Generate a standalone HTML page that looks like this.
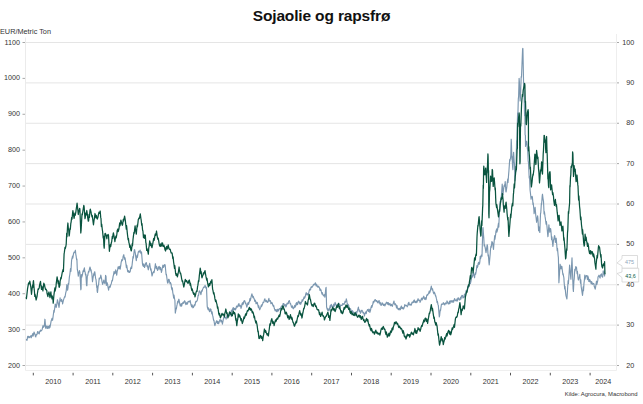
<!DOCTYPE html>
<html><head><meta charset="utf-8"><title>Sojaolie og rapsfrø</title>
<style>
html,body{margin:0;padding:0;background:#fff;}
body{width:643px;height:404px;position:relative;overflow:hidden;font-family:"Liberation Sans",sans-serif;color:#333;}
.title{position:absolute;left:0;width:643px;top:6px;line-height:20px;text-align:center;font-weight:bold;font-size:15.5px;color:#111;letter-spacing:-0.15px;}
.unit{position:absolute;left:0px;top:26.5px;font-size:7.3px;color:#333;}
.yl{position:absolute;left:0;width:20px;text-align:right;font-size:7.2px;line-height:10px;color:#333;}
.yr{position:absolute;left:614px;width:20.3px;text-align:right;font-size:7.2px;line-height:10px;color:#333;}
.xl{position:absolute;top:377px;width:40px;text-align:center;font-size:7.2px;line-height:10px;color:#333;}
.src{position:absolute;right:5.5px;top:390px;font-size:5.9px;color:#333;line-height:8px;}
</style></head><body>
<svg width="643" height="404" viewBox="0 0 643 404" style="position:absolute;left:0;top:0">
<line x1="25.5" y1="365.5" x2="616.5" y2="365.5" stroke="#e5e5e5" stroke-width="1"/>
<line x1="616.5" y1="365.5" x2="619.0" y2="365.5" stroke="#a8a8a8" stroke-width="1"/>
<line x1="25.5" y1="325.12" x2="616.5" y2="325.12" stroke="#e5e5e5" stroke-width="1"/>
<line x1="616.5" y1="325.12" x2="619.0" y2="325.12" stroke="#a8a8a8" stroke-width="1"/>
<line x1="25.5" y1="284.75" x2="616.5" y2="284.75" stroke="#e5e5e5" stroke-width="1"/>
<line x1="616.5" y1="284.75" x2="619.0" y2="284.75" stroke="#a8a8a8" stroke-width="1"/>
<line x1="25.5" y1="244.38" x2="616.5" y2="244.38" stroke="#e5e5e5" stroke-width="1"/>
<line x1="616.5" y1="244.38" x2="619.0" y2="244.38" stroke="#a8a8a8" stroke-width="1"/>
<line x1="25.5" y1="204.0" x2="616.5" y2="204.0" stroke="#e5e5e5" stroke-width="1"/>
<line x1="616.5" y1="204.0" x2="619.0" y2="204.0" stroke="#a8a8a8" stroke-width="1"/>
<line x1="25.5" y1="163.62" x2="616.5" y2="163.62" stroke="#e5e5e5" stroke-width="1"/>
<line x1="616.5" y1="163.62" x2="619.0" y2="163.62" stroke="#a8a8a8" stroke-width="1"/>
<line x1="25.5" y1="123.25" x2="616.5" y2="123.25" stroke="#e5e5e5" stroke-width="1"/>
<line x1="616.5" y1="123.25" x2="619.0" y2="123.25" stroke="#a8a8a8" stroke-width="1"/>
<line x1="25.5" y1="82.88" x2="616.5" y2="82.88" stroke="#e5e5e5" stroke-width="1"/>
<line x1="616.5" y1="82.88" x2="619.0" y2="82.88" stroke="#a8a8a8" stroke-width="1"/>
<line x1="25.5" y1="42.5" x2="616.5" y2="42.5" stroke="#e5e5e5" stroke-width="1"/>
<line x1="616.5" y1="42.5" x2="619.0" y2="42.5" stroke="#a8a8a8" stroke-width="1"/>
<line x1="22.5" y1="365.5" x2="25.5" y2="365.5" stroke="#a8a8a8" stroke-width="1"/>
<line x1="22.5" y1="329.61" x2="25.5" y2="329.61" stroke="#a8a8a8" stroke-width="1"/>
<line x1="22.5" y1="293.72" x2="25.5" y2="293.72" stroke="#a8a8a8" stroke-width="1"/>
<line x1="22.5" y1="257.83" x2="25.5" y2="257.83" stroke="#a8a8a8" stroke-width="1"/>
<line x1="22.5" y1="221.94" x2="25.5" y2="221.94" stroke="#a8a8a8" stroke-width="1"/>
<line x1="22.5" y1="186.06" x2="25.5" y2="186.06" stroke="#a8a8a8" stroke-width="1"/>
<line x1="22.5" y1="150.17" x2="25.5" y2="150.17" stroke="#a8a8a8" stroke-width="1"/>
<line x1="22.5" y1="114.28" x2="25.5" y2="114.28" stroke="#a8a8a8" stroke-width="1"/>
<line x1="22.5" y1="78.39" x2="25.5" y2="78.39" stroke="#a8a8a8" stroke-width="1"/>
<line x1="22.5" y1="42.5" x2="25.5" y2="42.5" stroke="#a8a8a8" stroke-width="1"/>
<line x1="25.5" y1="37.5" x2="25.5" y2="370.5" stroke="#ebebeb" stroke-width="1"/>
<line x1="25.5" y1="370.5" x2="616.5" y2="370.5" stroke="#efefef" stroke-width="1"/>
<line x1="616.5" y1="34" x2="616.5" y2="370.5" stroke="#eeeeee" stroke-width="1"/>
<line x1="33.3" y1="372.8" x2="33.3" y2="375.4" stroke="#555" stroke-width="1"/>
<line x1="73.1" y1="372.8" x2="73.1" y2="375.4" stroke="#555" stroke-width="1"/>
<line x1="112.8" y1="372.8" x2="112.8" y2="375.4" stroke="#555" stroke-width="1"/>
<line x1="152.6" y1="372.8" x2="152.6" y2="375.4" stroke="#555" stroke-width="1"/>
<line x1="192.4" y1="372.8" x2="192.4" y2="375.4" stroke="#555" stroke-width="1"/>
<line x1="232.2" y1="372.8" x2="232.2" y2="375.4" stroke="#555" stroke-width="1"/>
<line x1="271.9" y1="372.8" x2="271.9" y2="375.4" stroke="#555" stroke-width="1"/>
<line x1="311.7" y1="372.8" x2="311.7" y2="375.4" stroke="#555" stroke-width="1"/>
<line x1="351.5" y1="372.8" x2="351.5" y2="375.4" stroke="#555" stroke-width="1"/>
<line x1="391.2" y1="372.8" x2="391.2" y2="375.4" stroke="#555" stroke-width="1"/>
<line x1="431.0" y1="372.8" x2="431.0" y2="375.4" stroke="#555" stroke-width="1"/>
<line x1="470.8" y1="372.8" x2="470.8" y2="375.4" stroke="#555" stroke-width="1"/>
<line x1="510.5" y1="372.8" x2="510.5" y2="375.4" stroke="#555" stroke-width="1"/>
<line x1="550.3" y1="372.8" x2="550.3" y2="375.4" stroke="#555" stroke-width="1"/>
<line x1="590.1" y1="372.8" x2="590.1" y2="375.4" stroke="#555" stroke-width="1"/>
<path d="M26.4,338.9 L26.6,339.8 L27.0,340.3 L27.2,339.1 L27.7,336.4 L27.9,337.9 L28.4,337.2 L28.7,336.3 L29.2,336.9 L29.4,337.7 L30.1,336.8 L30.4,336.5 L31.0,335.7 L31.2,337.8 L31.9,335.7 L32.2,335.1 L32.9,333.5 L33.1,336.2 L33.8,333.7 L34.0,332.0 L35.1,334.7 L35.4,336.5 L35.8,337.0 L36.1,335.0 L36.5,334.4 L36.8,334.8 L37.2,333.7 L37.5,331.8 L38.0,331.5 L38.2,332.8 L39.2,333.8 L39.5,332.1 L40.6,330.1 L40.9,331.1 L41.9,330.1 L42.1,329.6 L43.0,325.5 L43.2,327.4 L44.1,326.5 L44.4,325.0 L44.9,319.2 L45.1,320.5 L45.6,328.1 L45.9,325.5 L46.8,327.1 L47.0,328.5 L47.5,328.4 L47.8,326.0 L48.2,326.3 L48.5,328.0 L49.0,328.4 L49.3,326.5 L49.8,325.3 L50.0,327.3 L50.9,322.3 L51.1,321.2 L52.0,318.4 L52.2,319.6 L52.6,320.3 L52.9,318.0 L53.9,310.3 L54.1,312.3 L55.0,306.2 L55.2,304.0 L56.0,305.6 L56.2,307.4 L57.1,302.7 L57.4,299.7 L58.2,302.8 L58.5,304.7 L59.0,307.4 L59.2,306.1 L60.1,297.9 L60.4,300.7 L61.4,301.3 L61.6,299.4 L62.4,302.1 L62.6,303.9 L63.5,299.9 L63.8,299.1 L64.6,296.6 L65.0,297.1 L65.8,292.5 L66.2,291.1 L66.8,284.7 L67.2,285.3 L67.6,290.1 L68.0,287.9 L68.3,283.3 L68.7,284.2 L69.4,276.9 L69.8,274.5 L70.5,268.6 L70.9,271.5 L71.6,260.2 L71.9,259.0 L72.5,256.0 L72.8,258.1 L73.3,255.1 L73.6,253.2 L74.2,251.9 L74.5,252.6 L75.1,251.4 L75.4,250.2 L75.8,254.3 L76.1,255.8 L76.6,259.7 L76.9,259.0 L77.3,269.4 L77.7,271.0 L78.3,276.1 L78.7,273.3 L79.5,270.6 L79.9,272.5 L80.8,289.8 L81.1,288.6 L81.3,274.5 L81.7,277.3 L82.5,274.5 L82.9,271.6 L83.3,270.3 L83.6,271.7 L84.0,269.2 L84.4,267.9 L84.8,271.6 L85.1,271.9 L85.5,274.9 L85.9,274.2 L86.5,285.1 L86.9,285.8 L87.3,276.0 L87.7,275.7 L88.5,271.3 L88.9,272.1 L89.3,269.8 L89.6,268.3 L90.0,267.0 L90.4,268.3 L90.8,270.9 L91.1,269.9 L91.4,272.4 L91.8,273.2 L92.5,281.8 L92.9,278.7 L93.8,273.7 L94.1,275.3 L94.4,272.1 L94.8,271.8 L95.6,278.4 L96.0,279.5 L96.8,287.8 L97.1,286.1 L97.1,290.9 L97.5,292.5 L98.2,285.8 L98.6,284.7 L99.2,278.1 L99.6,279.0 L100.4,277.6 L100.8,275.0 L101.6,278.9 L102.0,281.6 L102.6,284.4 L103.0,283.4 L103.8,280.1 L104.1,281.7 L104.9,283.6 L105.2,281.4 L105.6,275.4 L106.0,276.4 L106.4,285.4 L106.8,282.3 L107.6,284.3 L108.0,287.1 L108.6,290.1 L109.0,287.4 L109.8,286.0 L110.1,287.3 L110.8,284.6 L111.2,284.0 L112.0,280.4 L112.4,280.9 L113.1,276.4 L113.5,274.8 L114.1,271.4 L114.5,273.8 L115.3,273.1 L115.7,269.8 L116.4,273.0 L116.7,275.2 L117.2,271.3 L117.5,270.5 L118.1,266.8 L118.4,267.5 L119.0,268.8 L119.3,266.3 L119.9,267.0 L120.2,269.2 L120.8,265.2 L121.1,262.7 L121.8,259.6 L122.1,260.8 L122.8,259.4 L123.1,256.5 L123.8,254.7 L124.1,256.8 L124.7,259.4 L125.0,257.7 L125.6,261.6 L125.9,263.6 L126.4,267.6 L126.7,265.2 L127.3,269.0 L127.6,271.3 L128.3,272.1 L128.6,270.6 L129.3,271.9 L129.6,272.4 L130.3,271.2 L130.6,268.3 L131.3,266.9 L131.6,268.6 L132.2,263.9 L132.5,261.1 L133.0,256.6 L133.3,258.1 L134.3,250.0 L134.6,249.7 L135.3,253.1 L135.6,255.8 L136.3,260.6 L136.6,258.1 L137.1,255.2 L137.4,257.5 L138.0,253.6 L138.3,251.9 L138.9,251.2 L139.2,252.1 L139.8,251.4 L140.1,250.0 L140.5,251.8 L140.8,253.0 L141.2,253.7 L141.5,251.9 L142.5,264.1 L142.8,265.5 L143.4,266.3 L143.7,263.8 L144.2,265.2 L144.5,267.5 L145.2,265.5 L145.5,263.8 L146.2,262.5 L146.5,263.5 L147.1,266.7 L147.4,265.6 L148.0,268.4 L148.3,269.8 L148.8,266.8 L149.1,265.7 L149.7,263.4 L150.0,265.6 L150.7,270.2 L151.0,268.8 L151.7,273.7 L152.0,276.0 L152.7,273.6 L153.0,272.4 L153.7,271.7 L154.0,272.6 L154.6,269.7 L154.9,267.5 L155.4,263.7 L155.7,266.0 L156.3,268.7 L156.6,266.4 L157.2,268.6 L157.5,270.5 L158.2,269.3 L158.5,267.2 L159.2,266.4 L159.5,268.1 L160.1,269.8 L160.4,267.4 L161.1,269.7 L161.4,272.4 L162.0,270.0 L162.3,268.0 L162.9,265.0 L163.2,267.5 L163.9,266.7 L164.2,265.1 L164.9,264.5 L165.2,265.4 L166.1,274.8 L166.4,274.2 L167.4,282.0 L167.7,283.2 L168.2,282.2 L168.5,279.3 L169.1,279.3 L169.4,280.8 L170.1,283.8 L170.4,282.5 L171.1,284.3 L171.4,287.5 L172.0,289.9 L172.3,287.9 L172.8,292.6 L173.1,294.1 L173.7,298.1 L174.0,295.0 L174.6,299.2 L174.9,300.2 L175.3,313.1 L175.6,311.6 L176.1,308.1 L176.4,309.0 L176.8,306.0 L177.1,304.7 L177.7,301.3 L178.0,303.0 L178.6,299.8 L178.9,299.2 L179.4,301.8 L179.7,303.7 L180.3,306.1 L180.6,304.6 L181.3,303.6 L181.6,306.1 L182.3,303.6 L182.6,303.1 L183.3,302.2 L183.6,303.3 L184.3,301.4 L184.6,300.8 L185.1,301.6 L185.4,303.5 L186.0,304.6 L186.3,303.1 L186.9,302.7 L187.2,304.1 L187.8,303.0 L188.1,301.3 L188.8,301.5 L189.1,301.7 L189.8,302.0 L190.1,300.4 L190.7,303.4 L191.0,304.8 L191.7,306.9 L192.0,304.8 L192.6,306.5 L192.9,307.8 L193.5,307.3 L193.8,306.0 L194.4,304.7 L194.7,305.8 L195.2,304.3 L195.5,302.2 L196.2,301.2 L196.5,301.8 L197.2,300.5 L197.5,299.4 L198.2,295.2 L198.5,295.6 L199.2,291.1 L199.5,290.8 L200.1,291.9 L200.4,292.7 L200.9,294.6 L201.2,293.1 L201.8,290.3 L202.1,291.3 L202.7,289.0 L203.0,288.5 L203.7,287.0 L204.0,287.3 L204.7,287.1 L205.0,285.3 L205.4,286.4 L205.7,287.4 L206.2,288.6 L206.5,287.2 L207.2,306.1 L207.5,307.8 L208.2,309.8 L208.5,307.9 L209.2,310.4 L209.5,311.7 L210.0,311.3 L210.3,308.9 L210.9,309.2 L211.2,310.9 L211.8,313.8 L212.1,311.9 L212.6,315.4 L212.9,316.4 L213.6,320.3 L213.9,320.1 L214.6,324.5 L214.9,325.7 L215.6,323.1 L215.9,322.5 L216.6,320.8 L216.9,322.1 L217.5,323.4 L217.8,321.2 L218.4,323.0 L218.7,323.7 L219.2,321.9 L219.5,320.9 L220.1,319.4 L220.4,320.3 L221.1,321.9 L221.4,320.2 L222.1,322.0 L222.4,324.1 L223.1,320.6 L223.4,318.9 L224.1,316.7 L224.4,317.7 L224.9,317.8 L225.2,317.3 L225.8,317.7 L226.1,319.1 L226.7,316.8 L227.0,315.8 L227.6,314.7 L227.9,315.0 L228.6,315.4 L228.9,314.7 L229.6,315.9 L229.9,316.0 L230.5,313.9 L230.8,313.1 L231.5,310.1 L231.8,311.7 L232.4,310.8 L232.7,308.8 L233.3,307.5 L233.6,309.7 L234.2,309.6 L234.5,308.6 L235.0,308.3 L235.3,309.9 L236.0,308.8 L236.3,306.9 L237.0,305.9 L237.3,307.1 L238.0,306.6 L238.3,304.5 L239.0,303.7 L239.3,305.9 L239.9,306.2 L240.2,305.2 L240.7,306.5 L241.0,308.4 L241.6,306.5 L241.9,304.2 L242.5,302.7 L242.8,304.7 L243.5,303.2 L243.8,301.3 L244.5,300.7 L244.8,301.0 L245.5,303.7 L245.8,303.0 L246.5,305.8 L246.8,307.1 L247.3,305.5 L247.6,303.8 L248.2,302.6 L248.5,304.4 L249.1,302.3 L249.4,301.6 L249.9,298.6 L250.2,300.8 L250.9,298.0 L251.2,296.5 L251.9,293.9 L252.2,294.9 L252.9,297.7 L253.2,296.3 L253.9,298.4 L254.2,298.9 L254.8,301.4 L255.1,300.1 L255.7,301.2 L256.0,303.6 L256.5,303.6 L256.8,302.3 L257.4,302.8 L257.7,304.4 L258.4,307.7 L258.7,305.7 L259.4,308.8 L259.7,309.8 L260.4,308.0 L260.7,307.5 L261.4,304.9 L261.7,306.4 L262.3,304.9 L262.6,304.1 L263.1,302.2 L263.4,302.6 L264.0,301.9 L264.3,300.0 L264.9,298.8 L265.2,300.2 L265.9,301.7 L266.2,300.3 L266.9,301.6 L267.2,302.4 L267.9,302.2 L268.2,300.7 L268.9,298.4 L269.2,301.1 L269.7,301.0 L270.0,300.4 L270.6,301.1 L270.9,303.6 L271.5,303.5 L271.8,302.5 L272.3,303.2 L272.6,304.8 L273.3,306.3 L273.6,305.2 L274.3,308.3 L274.6,309.2 L275.3,311.0 L275.6,309.5 L276.3,309.8 L276.6,311.7 L277.2,311.6 L277.5,309.3 L278.1,309.4 L278.4,311.0 L278.9,309.8 L279.2,309.0 L279.8,308.5 L280.1,309.1 L280.8,307.8 L281.1,306.8 L281.8,305.8 L282.1,306.5 L282.8,305.2 L283.1,303.6 L283.8,303.5 L284.1,304.5 L284.7,305.9 L285.0,304.6 L285.5,304.7 L285.8,307.0 L286.4,306.0 L286.7,304.3 L287.3,303.0 L287.6,304.0 L288.3,303.6 L288.6,301.4 L289.3,300.5 L289.6,301.6 L290.2,303.9 L290.5,303.4 L291.2,305.8 L291.5,307.1 L292.1,307.6 L292.4,305.9 L293.0,308.1 L293.3,308.8 L293.9,307.9 L294.2,306.9 L294.7,305.4 L295.0,307.3 L295.7,306.0 L296.0,303.6 L296.7,302.6 L297.0,304.8 L297.7,304.2 L298.0,302.1 L298.7,301.2 L299.0,302.3 L299.6,303.9 L299.9,302.2 L300.4,302.4 L300.7,304.4 L301.3,302.6 L301.6,302.2 L302.2,299.7 L302.5,301.2 L303.2,299.8 L303.5,298.6 L304.2,296.8 L304.5,298.3 L305.2,296.8 L305.5,295.0 L306.2,292.6 L306.5,294.0 L307.0,294.9 L307.3,293.6 L307.9,294.5 L308.2,295.0 L308.8,292.6 L309.1,291.0 L309.7,289.1 L310.0,290.1 L310.6,289.8 L310.9,287.2 L311.6,286.7 L311.9,287.5 L312.6,286.3 L312.9,285.9 L313.6,284.3 L313.9,285.0 L314.5,284.5 L314.8,283.8 L315.4,282.8 L315.7,284.8 L316.2,285.9 L316.5,284.2 L317.1,285.5 L317.4,286.8 L318.1,287.2 L318.4,286.2 L319.1,287.2 L319.4,287.7 L320.1,290.5 L320.4,289.0 L321.1,290.3 L321.4,291.9 L322.0,294.1 L322.3,292.6 L322.8,294.4 L323.1,295.1 L323.7,296.0 L324.0,294.8 L324.6,294.7 L324.9,297.2 L325.8,288.5 L326.1,287.3 L326.6,307.2 L326.9,308.2 L327.6,310.3 L327.9,308.4 L328.6,310.1 L328.9,310.9 L329.6,309.0 L329.9,307.2 L330.3,305.4 L330.6,307.8 L331.0,306.1 L331.3,304.4 L331.9,305.8 L332.2,306.2 L332.8,308.0 L333.1,306.3 L333.8,304.1 L334.1,306.4 L334.8,304.4 L335.1,302.4 L335.8,304.1 L336.1,305.5 L336.8,306.1 L337.1,304.9 L337.6,304.4 L337.9,306.0 L338.5,304.4 L338.8,303.1 L339.4,304.6 L339.7,305.1 L340.2,306.9 L340.5,305.0 L341.2,305.2 L341.5,305.5 L342.2,305.5 L342.5,303.9 L343.2,303.6 L343.5,304.4 L344.2,304.3 L344.5,303.5 L345.1,301.2 L345.4,302.3 L346.0,301.1 L346.3,298.9 L346.8,301.0 L347.1,302.9 L347.7,305.1 L348.0,304.4 L348.7,305.3 L349.0,307.6 L349.7,308.9 L350.0,308.5 L350.7,309.0 L351.0,310.7 L351.7,311.6 L352.0,310.6 L352.6,310.7 L352.9,312.9 L353.4,312.5 L353.7,312.2 L354.3,313.0 L354.6,314.0 L355.2,315.7 L355.5,314.4 L356.2,311.7 L356.5,313.9 L357.2,311.7 L357.5,310.7 L358.4,307.1 L358.7,308.9 L359.3,311.5 L359.6,310.0 L360.1,311.9 L360.4,313.3 L361.1,312.0 L361.4,310.3 L362.1,310.3 L362.4,311.2 L363.1,313.1 L363.4,312.3 L364.1,313.8 L364.4,316.0 L365.0,313.7 L365.3,312.9 L365.9,311.9 L366.2,313.6 L366.7,311.2 L367.0,310.9 L367.6,309.6 L367.9,310.3 L368.6,311.6 L368.9,309.1 L369.6,309.9 L369.9,312.4 L370.6,309.8 L370.9,308.0 L371.6,305.7 L371.9,307.3 L372.5,305.2 L372.8,304.1 L373.3,301.3 L373.6,302.8 L374.2,301.5 L374.5,300.6 L375.1,299.5 L375.4,299.8 L376.1,301.4 L376.4,300.5 L377.1,300.9 L377.4,302.4 L378.1,303.0 L378.4,301.4 L379.1,300.5 L379.4,302.2 L379.9,304.0 L380.2,302.3 L380.8,304.7 L381.1,305.4 L381.7,304.7 L382.0,302.8 L382.5,303.2 L382.8,304.0 L383.5,305.4 L383.8,304.1 L384.5,304.2 L384.8,305.9 L385.5,304.6 L385.8,303.5 L386.5,302.2 L386.8,302.4 L387.4,304.2 L387.7,302.5 L388.3,302.5 L388.6,304.8 L389.1,304.6 L389.4,303.7 L390.0,303.4 L390.3,305.6 L391.0,305.7 L391.3,304.4 L392.0,305.6 L392.3,306.4 L393.0,304.1 L393.3,303.1 L394.0,301.0 L394.3,303.2 L394.9,304.8 L395.1,303.5 L395.7,304.4 L396.0,305.4 L396.6,308.0 L396.9,305.3 L397.5,307.9 L397.8,308.8 L398.5,309.7 L398.8,308.4 L399.5,308.4 L399.8,310.0 L400.4,309.6 L400.7,307.4 L401.4,306.1 L401.7,308.3 L402.3,308.7 L402.6,307.4 L403.2,308.0 L403.5,309.0 L404.1,307.7 L404.4,306.5 L404.9,304.5 L405.2,305.8 L405.9,305.7 L406.2,305.3 L406.9,305.9 L407.2,306.8 L407.9,305.2 L408.2,303.4 L408.9,302.3 L409.2,304.9 L409.8,304.5 L410.1,304.0 L410.6,304.6 L410.9,305.4 L411.5,304.5 L411.8,302.9 L412.4,301.9 L412.7,302.8 L413.4,302.5 L413.7,300.7 L414.4,300.0 L414.7,302.2 L415.4,302.6 L415.7,301.5 L416.4,301.1 L416.7,302.7 L417.2,301.8 L417.5,300.5 L418.1,298.7 L418.4,300.1 L419.0,300.7 L419.3,300.1 L419.9,300.8 L420.1,302.3 L420.8,300.6 L421.1,299.3 L421.8,298.0 L422.1,299.9 L422.8,298.6 L423.1,297.6 L423.8,296.2 L424.1,298.2 L424.7,299.3 L425.0,297.8 L425.6,297.9 L425.9,299.7 L426.4,297.8 L426.7,295.4 L427.3,294.7 L427.6,295.2 L428.3,293.7 L428.6,293.3 L429.3,291.0 L429.6,293.1 L430.3,291.1 L430.6,289.3 L431.3,286.1 L431.6,288.0 L432.2,290.2 L432.5,288.7 L433.0,291.0 L433.3,292.5 L433.9,293.8 L434.2,292.1 L434.8,293.3 L435.1,294.1 L435.5,296.2 L435.8,295.8 L436.3,298.2 L436.6,299.4 L437.1,302.6 L437.4,301.4 L438.0,304.7 L438.3,305.2 L439.3,316.9 L439.6,315.7 L440.2,309.9 L440.5,310.6 L441.2,305.9 L441.5,304.0 L442.1,304.0 L442.4,304.3 L443.0,304.1 L443.3,302.7 L443.9,303.2 L444.2,304.3 L444.7,305.0 L445.0,303.8 L445.7,302.9 L446.0,303.9 L446.7,302.7 L447.0,300.9 L447.7,302.4 L448.0,303.7 L448.7,304.0 L449.0,302.9 L449.6,301.1 L449.9,303.7 L450.4,301.5 L450.7,300.7 L451.3,300.6 L451.6,301.9 L452.2,302.3 L452.5,301.0 L453.2,300.4 L453.5,302.2 L454.2,300.3 L454.5,298.5 L455.2,299.8 L455.5,300.6 L456.2,301.0 L456.5,300.2 L457.0,298.9 L457.3,301.0 L457.9,298.7 L458.2,297.7 L458.8,298.6 L459.1,299.9 L459.7,300.0 L460.0,299.4 L460.6,297.2 L460.9,299.2 L461.6,296.2 L461.9,295.4 L462.6,295.5 L462.9,298.0 L463.6,297.6 L463.9,297.1 L464.5,294.1 L464.8,296.8 L465.4,294.2 L465.7,293.5 L466.2,290.4 L466.5,292.2 L467.1,291.1 L467.4,289.0 L468.1,286.2 L468.4,287.6 L469.1,286.0 L469.4,284.5 L470.1,280.8 L470.4,283.7 L471.1,280.5 L471.4,278.2 L472.0,275.6 L472.3,277.1 L472.8,274.8 L473.1,272.8 L473.7,274.6 L474.0,275.5 L474.6,277.8 L474.9,274.1 L475.3,272.9 L475.6,274.3 L476.1,271.7 L476.4,269.8 L476.9,265.5 L477.2,267.7 L477.8,266.3 L478.1,263.7 L478.7,262.3 L479.0,264.4 L479.6,263.4 L479.9,261.1 L480.2,256.3 L480.5,258.8 L481.0,257.1 L481.3,255.0 L481.8,254.7 L482.0,256.2 L482.8,229.1 L483.0,227.5 L483.5,234.7 L483.8,238.2 L484.2,246.0 L484.5,244.5 L485.1,247.5 L485.4,248.8 L486.0,252.6 L486.2,251.3 L487.2,244.7 L487.5,245.9 L488.1,256.0 L488.4,254.8 L489.0,263.3 L489.2,265.0 L490.2,254.0 L490.4,250.5 L490.9,246.2 L491.2,247.5 L491.7,243.6 L491.9,241.5 L492.6,242.7 L492.9,245.2 L493.5,249.4 L493.8,245.1 L494.7,235.7 L494.9,239.3 L495.7,234.1 L495.9,231.4 L496.7,228.9 L496.9,232.2 L497.6,229.6 L497.9,227.1 L498.5,223.2 L498.8,227.1 L499.4,212.2 L499.6,211.2 L500.2,201.3 L500.5,203.4 L501.2,197.4 L501.5,194.7 L502.2,184.1 L502.4,186.3 L503.1,194.6 L503.3,191.3 L504.1,185.5 L504.3,186.6 L505.0,183.4 L505.2,181.5 L505.9,191.5 L506.1,192.0 L506.9,186.4 L507.1,183.8 L507.8,178.8 L508.0,182.5 L508.7,173.4 L508.9,171.2 L509.7,159.6 L509.9,161.1 L510.6,157.5 L510.8,155.2 L511.2,139.2 L511.4,142.5 L511.9,159.3 L512.1,156.0 L512.6,167.1 L512.9,169.6 L513.4,154.7 L513.6,152.4 L514.2,161.8 L514.5,164.2 L514.9,180.8 L515.1,177.2 L515.6,169.2 L515.9,171.8 L516.6,141.0 L516.9,139.6 L517.6,112.9 L517.9,114.7 L518.3,99.1 L518.6,96.6 L519.1,78.3 L519.4,82.1 L520.1,101.0 L520.4,98.2 L521.2,76.6 L521.5,77.3 L522.6,48.8 L522.9,48.4 L523.6,83.4 L523.9,85.8 L524.6,115.8 L524.9,112.5 L525.1,134.7 L525.4,135.5 L525.5,146.5 L525.8,144.9 L526.5,141.2 L526.8,142.0 L527.4,148.9 L527.6,147.9 L528.2,161.2 L528.5,163.0 L529.2,178.0 L529.5,176.1 L530.1,190.2 L530.4,192.7 L531.1,199.3 L531.4,196.8 L532.1,196.4 L532.4,197.3 L533.0,204.5 L533.2,202.8 L533.9,209.8 L534.1,213.6 L534.9,208.9 L535.1,207.4 L535.8,215.5 L536.0,217.0 L536.6,222.3 L536.9,220.2 L537.6,215.9 L537.9,218.4 L538.6,230.8 L538.9,226.9 L539.5,229.8 L539.8,232.5 L540.5,213.8 L540.8,212.5 L541.4,203.1 L541.6,204.5 L542.2,196.1 L542.5,194.2 L543.2,200.0 L543.5,201.3 L544.1,214.0 L544.4,211.5 L545.1,216.9 L545.4,218.8 L546.1,224.2 L546.4,221.5 L547.0,226.7 L547.2,229.0 L547.9,236.7 L548.1,235.3 L548.9,224.8 L549.1,226.9 L549.8,232.2 L550.0,228.8 L550.6,228.6 L550.9,230.5 L551.6,239.6 L551.9,236.8 L552.6,243.7 L552.9,246.4 L553.5,240.3 L553.8,239.6 L554.5,235.5 L554.8,236.1 L555.4,242.4 L555.6,239.9 L556.2,238.2 L556.5,241.7 L557.2,250.6 L557.5,248.4 L558.1,255.3 L558.4,257.6 L558.9,282.8 L559.1,279.8 L560.1,264.2 L560.4,266.3 L561.0,268.9 L561.2,266.2 L561.9,266.5 L562.1,268.5 L562.9,274.7 L563.1,273.6 L563.9,278.0 L564.1,281.9 L564.7,288.9 L565.0,286.4 L565.6,292.6 L565.9,295.4 L566.9,299.0 L567.1,296.3 L568.1,280.7 L568.4,283.8 L569.4,268.8 L569.6,265.0 L570.6,276.1 L570.9,279.1 L571.8,261.4 L572.0,257.8 L573.1,288.7 L573.4,291.4 L573.9,281.1 L574.2,279.0 L574.8,269.3 L575.0,271.2 L575.5,268.7 L575.8,266.5 L576.2,267.0 L576.5,267.4 L577.1,273.7 L577.4,271.4 L578.1,278.9 L578.4,280.0 L578.9,277.9 L579.2,277.8 L579.8,274.4 L580.0,277.5 L580.5,283.2 L580.8,279.9 L581.2,287.0 L581.5,288.6 L582.5,295.4 L582.8,292.7 L583.2,286.9 L583.5,290.8 L584.0,283.1 L584.3,280.9 L584.8,275.0 L585.0,279.3 L585.6,276.7 L585.9,276.0 L586.6,275.6 L586.9,276.0 L587.5,279.7 L587.8,275.9 L588.5,278.1 L588.8,281.5 L589.4,281.7 L589.6,279.5 L590.2,280.6 L590.5,281.0 L591.2,283.8 L591.5,281.6 L592.1,282.6 L592.4,284.3 L593.1,284.0 L593.4,283.4 L594.0,284.0 L594.2,286.2 L595.2,289.1 L595.5,287.6 L596.5,281.1 L596.8,284.5 L597.8,280.4 L598.0,277.0 L599.0,275.2 L599.2,276.2 L600.1,278.1 L600.4,275.3 L601.5,273.9 L601.8,276.3 L602.6,277.1 L602.9,275.4 L603.2,270.8 L603.5,273.0 L604.1,274.1 L604.4,271.8 L604.6,275.9 L604.9,276.4" fill="none" stroke="#7b97b0" stroke-width="1.15" stroke-linejoin="round"/>
<path d="M26.2,297.1 L26.4,298.6 L27.4,290.1 L27.6,288.3 L28.6,282.8 L28.8,284.1 L29.6,282.7 L29.8,281.1 L30.6,285.9 L30.8,286.8 L31.5,294.3 L31.8,291.5 L32.6,284.8 L32.9,287.3 L33.2,282.2 L33.5,280.7 L34.1,288.2 L34.4,291.0 L34.8,296.4 L35.0,294.0 L35.9,298.6 L36.1,300.0 L37.1,296.0 L37.4,293.5 L38.1,288.8 L38.4,289.5 L39.2,288.0 L39.5,285.5 L40.5,281.3 L40.8,284.4 L41.5,289.4 L41.8,286.2 L42.6,288.6 L42.9,290.9 L43.5,285.8 L43.8,283.2 L44.5,284.7 L44.8,286.6 L45.6,289.7 L45.9,289.0 L46.8,290.6 L47.0,293.2 L47.9,296.6 L48.1,294.8 L49.0,292.0 L49.2,293.7 L50.0,297.6 L50.2,295.8 L50.9,291.9 L51.1,294.7 L52.0,298.9 L52.2,295.8 L53.0,299.7 L53.2,303.2 L53.9,295.2 L54.1,293.6 L54.9,287.8 L55.1,291.2 L56.0,286.7 L56.2,283.9 L57.1,276.8 L57.4,278.6 L58.2,283.6 L58.5,280.9 L59.0,286.7 L59.2,287.3 L59.9,285.0 L60.1,281.5 L60.9,277.3 L61.1,279.0 L62.0,273.8 L62.2,272.7 L63.1,269.4 L63.4,271.5 L64.1,253.9 L64.4,252.2 L65.0,247.3 L65.3,248.6 L65.9,246.1 L66.2,244.1 L66.7,233.2 L67.0,236.7 L67.6,225.8 L67.9,223.0 L68.4,229.3 L68.7,230.0 L69.1,236.0 L69.4,234.8 L70.0,228.2 L70.3,229.4 L70.8,223.5 L71.1,222.1 L71.7,217.3 L72.0,219.1 L72.6,213.0 L72.9,210.6 L73.3,213.2 L73.6,215.6 L74.1,218.3 L74.4,216.4 L74.9,213.1 L75.2,215.4 L75.8,212.3 L76.1,210.0 L77.1,203.2 L77.4,205.9 L78.3,214.5 L78.6,212.3 L79.6,208.3 L79.9,209.3 L80.8,233.0 L81.1,230.1 L82.0,213.9 L82.3,214.9 L82.9,211.0 L83.2,209.1 L83.8,205.4 L84.1,206.6 L85.0,218.6 L85.3,217.3 L85.8,213.1 L86.1,215.2 L86.5,212.5 L86.8,210.5 L87.4,214.8 L87.7,217.6 L88.3,221.2 L88.6,221.0 L89.1,214.3 L89.4,217.4 L90.0,210.4 L90.3,209.1 L91.0,211.9 L91.3,213.7 L92.0,216.9 L92.3,215.6 L93.2,222.9 L93.5,224.8 L94.1,219.8 L94.4,218.6 L95.0,213.5 L95.3,215.0 L96.0,217.9 L96.3,215.4 L97.0,218.1 L97.3,219.1 L98.0,217.1 L98.3,215.1 L99.0,212.1 L99.3,213.3 L99.9,212.5 L100.2,211.0 L100.7,217.4 L101.0,218.7 L101.4,226.5 L101.7,224.0 L102.3,229.5 L102.6,231.4 L103.2,238.0 L103.5,236.1 L103.9,245.6 L104.2,248.1 L104.9,234.0 L105.2,233.4 L105.9,234.4 L106.2,235.8 L106.9,238.8 L107.2,235.7 L108.2,234.5 L108.5,235.4 L109.4,251.3 L109.7,248.5 L110.4,244.5 L110.7,246.7 L111.4,242.5 L111.7,241.7 L112.3,236.4 L112.6,238.5 L113.1,234.2 L113.4,232.8 L114.0,235.9 L114.3,237.5 L114.9,241.6 L115.2,239.5 L115.9,236.1 L116.2,237.9 L116.9,234.0 L117.2,230.5 L117.9,229.0 L118.2,231.7 L118.9,229.1 L119.2,226.9 L119.7,222.8 L120.0,225.8 L120.6,222.4 L120.9,220.2 L121.5,222.5 L121.8,223.7 L122.3,225.3 L122.6,224.7 L123.3,219.4 L123.6,221.1 L124.3,217.7 L124.6,216.1 L125.3,220.0 L125.6,223.1 L126.3,229.1 L126.6,225.7 L127.2,231.9 L127.5,234.7 L128.1,239.8 L128.4,238.4 L128.9,242.6 L129.2,243.5 L129.8,247.3 L130.1,245.0 L130.5,247.1 L130.8,249.7 L131.3,250.9 L131.6,249.1 L132.2,243.7 L132.5,245.8 L133.0,239.5 L133.3,237.1 L133.9,232.3 L134.2,233.3 L134.8,228.4 L135.1,225.8 L135.5,229.5 L135.8,231.4 L136.3,234.1 L136.6,230.8 L137.1,225.2 L137.4,226.8 L138.0,222.3 L138.3,219.5 L139.0,217.9 L139.3,218.6 L140.0,215.4 L140.3,213.9 L140.9,218.5 L141.2,220.2 L141.7,225.1 L142.0,223.6 L142.6,230.4 L142.9,230.7 L143.5,237.6 L143.8,237.2 L144.2,234.8 L144.5,238.3 L145.0,236.2 L145.3,235.1 L145.8,242.3 L146.1,243.5 L146.7,250.4 L147.0,248.5 L148.0,252.4 L148.3,254.2 L148.8,247.6 L149.1,246.6 L149.7,240.8 L150.0,242.1 L150.7,245.5 L151.0,243.4 L151.7,247.1 L152.0,247.6 L152.7,244.2 L153.0,242.4 L153.7,238.3 L154.0,240.5 L154.5,238.8 L154.8,236.1 L155.3,234.0 L155.6,235.5 L156.2,233.3 L156.5,231.0 L157.0,234.6 L157.3,236.8 L157.9,239.4 L158.2,238.1 L158.8,241.3 L159.1,243.6 L159.7,246.2 L160.0,245.2 L160.6,244.0 L160.9,246.4 L161.6,245.3 L161.9,242.8 L162.6,243.1 L162.9,246.3 L163.6,246.5 L163.9,245.1 L164.6,247.7 L164.9,249.4 L165.6,251.0 L165.9,248.1 L166.7,246.4 L167.0,249.2 L167.9,247.4 L168.2,244.9 L168.7,247.5 L169.0,248.8 L169.5,249.3 L169.8,249.1 L170.3,249.5 L170.6,251.1 L171.2,253.0 L171.5,252.7 L172.1,253.1 L172.4,255.1 L172.8,258.5 L173.1,256.9 L173.6,262.0 L173.9,263.8 L174.5,268.4 L174.8,265.6 L175.3,270.3 L175.6,273.2 L176.2,275.5 L176.5,273.9 L177.1,274.4 L177.4,276.8 L178.1,273.5 L178.4,271.9 L179.1,267.0 L179.4,270.2 L180.3,273.7 L180.6,273.1 L181.3,276.5 L181.6,278.6 L182.3,281.5 L182.6,280.8 L183.5,285.7 L183.8,287.0 L184.4,284.1 L184.7,282.4 L185.3,279.3 L185.6,280.4 L186.3,281.6 L186.6,280.5 L187.3,282.2 L187.6,283.1 L188.3,283.2 L188.6,281.1 L189.3,280.0 L189.6,281.3 L190.1,285.2 L190.4,283.1 L191.0,286.3 L191.3,288.1 L191.9,290.5 L192.2,288.8 L192.7,290.9 L193.0,292.5 L193.7,294.3 L194.0,293.0 L194.7,294.6 L195.0,296.8 L195.7,294.2 L196.0,292.5 L196.7,290.8 L197.0,291.4 L197.6,286.4 L197.9,285.2 L198.5,280.6 L198.8,281.4 L199.3,275.9 L199.6,273.4 L200.2,268.2 L200.5,269.7 L200.9,273.6 L201.2,271.7 L201.7,276.5 L202.0,277.8 L202.6,275.8 L202.9,275.5 L203.4,272.9 L203.7,274.2 L204.7,271.4 L205.0,270.6 L205.7,275.0 L206.0,276.7 L206.7,280.1 L207.0,278.4 L207.5,282.2 L207.8,283.9 L208.4,286.8 L208.7,284.8 L209.3,283.6 L209.6,285.7 L210.1,284.3 L210.4,282.5 L210.9,281.1 L211.2,282.9 L211.6,282.2 L211.9,279.7 L212.6,289.1 L212.9,290.1 L213.6,293.9 L213.9,292.5 L214.6,296.3 L214.9,298.7 L215.6,301.7 L215.9,300.0 L216.6,303.2 L216.9,303.9 L217.5,308.1 L217.8,306.8 L218.4,310.9 L218.7,313.5 L219.2,315.1 L219.5,313.4 L220.1,316.7 L220.4,317.8 L221.1,316.4 L221.4,315.2 L222.1,313.3 L222.4,314.7 L223.1,315.1 L223.4,314.1 L224.1,315.0 L224.4,316.9 L224.9,312.8 L225.2,312.3 L225.8,309.0 L226.1,310.4 L226.7,313.7 L227.0,312.6 L227.6,315.7 L227.9,317.8 L228.6,315.5 L228.9,314.5 L229.6,311.8 L229.9,313.2 L230.5,314.2 L230.8,312.7 L231.5,314.6 L231.8,316.1 L232.4,315.5 L232.7,313.5 L233.3,311.0 L233.6,313.3 L234.2,313.9 L234.5,312.4 L235.0,313.7 L235.3,315.9 L235.8,320.1 L236.1,318.5 L236.5,323.2 L236.8,325.6 L237.4,320.5 L237.7,319.5 L238.3,313.9 L238.6,315.2 L239.1,317.0 L239.4,314.9 L240.0,316.3 L240.3,317.4 L241.0,320.6 L241.3,318.7 L242.0,321.9 L242.3,323.5 L243.0,321.3 L243.3,320.1 L244.0,317.0 L244.3,318.6 L244.8,317.0 L245.2,315.5 L245.7,313.8 L246.0,315.5 L246.6,313.8 L246.9,312.1 L247.5,310.5 L247.8,311.2 L248.5,309.8 L248.8,308.6 L249.5,307.3 L249.8,309.3 L250.4,310.2 L250.7,308.5 L251.4,309.3 L251.7,310.3 L252.3,312.9 L252.6,311.5 L253.2,312.7 L253.5,313.8 L254.1,317.7 L254.4,316.0 L254.9,319.2 L255.2,320.3 L255.9,323.0 L256.2,321.0 L256.9,324.1 L257.2,325.9 L257.9,331.6 L258.2,331.1 L258.9,338.2 L259.2,338.5 L259.8,338.2 L260.1,336.0 L260.6,335.5 L260.9,336.1 L261.5,338.3 L261.8,336.6 L262.4,338.3 L262.7,340.7 L263.4,335.5 L263.7,334.4 L264.4,329.0 L264.7,329.9 L265.4,332.3 L265.7,330.6 L266.4,333.0 L266.7,333.7 L267.2,335.1 L267.5,333.9 L268.1,333.4 L268.4,335.9 L269.0,331.0 L269.3,329.0 L269.9,323.8 L270.1,325.5 L270.8,323.1 L271.1,320.7 L271.8,318.6 L272.1,320.1 L272.8,323.4 L273.1,321.4 L273.8,323.7 L274.1,325.7 L274.7,322.8 L275.0,321.6 L275.6,319.9 L275.9,321.6 L276.4,320.4 L276.7,319.0 L277.3,318.1 L277.6,319.2 L278.3,317.2 L278.6,316.4 L279.3,315.0 L279.6,316.6 L280.3,313.7 L280.6,311.4 L281.3,308.4 L281.6,309.9 L282.2,309.0 L282.5,306.9 L283.0,305.9 L283.3,306.5 L283.9,309.4 L284.2,309.0 L284.8,311.4 L285.1,313.6 L285.8,313.9 L286.1,312.1 L286.8,313.6 L287.1,314.9 L287.8,317.8 L288.1,315.6 L288.8,317.0 L289.1,319.5 L289.6,318.3 L289.9,316.6 L290.5,314.7 L290.8,317.3 L291.4,319.1 L291.7,317.1 L292.2,318.5 L292.5,320.4 L293.2,322.9 L293.5,322.7 L294.2,325.8 L294.5,326.2 L295.2,324.2 L295.5,323.3 L296.2,321.1 L296.5,322.9 L297.1,319.7 L297.4,318.1 L298.0,315.5 L298.3,316.6 L298.8,314.6 L299.1,312.8 L299.7,310.7 L300.0,312.3 L300.7,315.1 L301.0,313.5 L301.7,316.6 L302.0,318.0 L302.7,313.7 L303.0,312.5 L303.7,308.5 L304.0,308.8 L304.6,306.5 L304.9,305.1 L305.4,301.5 L305.7,302.5 L306.3,303.8 L306.6,303.2 L307.2,304.1 L307.5,305.0 L308.2,299.8 L308.5,299.6 L309.2,294.5 L309.5,295.5 L310.1,299.2 L310.4,299.1 L311.1,302.8 L311.4,304.1 L312.0,305.8 L312.3,304.6 L312.9,305.4 L313.2,306.6 L313.8,304.8 L314.1,303.3 L314.6,303.2 L314.9,303.6 L315.6,306.7 L315.9,305.7 L316.6,307.5 L316.9,309.0 L317.6,309.9 L317.9,309.6 L318.6,309.9 L318.9,311.4 L319.5,314.6 L319.8,312.7 L320.3,314.5 L320.6,316.4 L321.2,315.1 L321.5,314.3 L322.1,312.2 L322.4,314.4 L323.1,316.4 L323.4,315.8 L324.1,317.4 L324.4,319.9 L325.1,318.1 L325.4,317.2 L326.1,315.9 L326.4,316.1 L326.9,314.3 L327.2,314.0 L327.8,312.1 L328.1,313.2 L328.7,317.3 L329.0,315.6 L329.6,318.2 L329.9,320.4 L330.3,316.5 L330.6,313.9 L331.0,309.6 L331.3,311.0 L331.9,310.2 L332.2,308.8 L332.8,307.1 L333.1,308.6 L333.8,310.2 L334.1,308.5 L334.8,310.8 L335.1,311.6 L335.8,309.6 L336.1,308.1 L336.8,305.8 L337.1,307.5 L337.6,307.1 L337.9,304.9 L338.5,303.5 L338.8,305.6 L339.4,308.6 L339.7,306.7 L340.2,309.1 L340.5,310.1 L341.2,312.8 L341.5,310.9 L342.2,313.1 L342.5,313.7 L343.2,312.1 L343.5,310.1 L344.2,307.4 L344.5,309.1 L345.1,308.0 L345.4,307.0 L346.0,304.9 L346.3,306.0 L346.8,307.3 L347.1,305.5 L347.7,306.2 L348.0,307.4 L348.7,309.5 L349.0,307.8 L349.7,310.0 L350.0,312.3 L350.7,313.5 L351.0,311.5 L351.7,312.1 L352.0,314.6 L352.6,314.6 L352.9,313.5 L353.4,314.6 L353.7,315.3 L354.3,315.5 L354.6,313.9 L355.2,312.6 L355.5,313.6 L356.2,315.4 L356.5,314.3 L357.2,316.8 L357.5,317.3 L358.2,316.8 L358.5,315.6 L359.2,315.1 L359.5,316.0 L360.0,317.5 L360.3,315.7 L360.9,318.1 L361.2,319.3 L361.8,318.4 L362.1,316.6 L362.6,316.3 L362.9,318.4 L363.6,320.5 L363.9,319.4 L364.6,321.9 L364.9,322.3 L365.6,321.5 L365.9,320.1 L366.6,318.4 L366.9,319.9 L367.5,321.2 L367.8,319.6 L368.4,323.3 L368.7,324.1 L369.2,326.2 L369.5,324.7 L370.1,327.5 L370.4,329.3 L371.1,330.8 L371.4,328.3 L372.1,330.4 L372.4,331.8 L373.1,332.8 L373.4,331.9 L374.1,332.1 L374.4,334.2 L374.9,333.3 L375.2,331.8 L375.8,330.1 L376.1,331.6 L376.7,333.2 L377.0,332.0 L377.6,332.8 L377.9,334.1 L378.6,334.1 L378.9,333.2 L379.6,333.5 L379.9,335.2 L380.5,332.5 L380.8,330.6 L381.5,328.1 L381.8,328.9 L382.4,329.3 L382.7,327.3 L383.3,326.5 L383.6,327.3 L384.2,329.3 L384.5,328.8 L385.0,329.5 L385.3,332.0 L386.0,334.7 L386.3,331.9 L387.0,334.9 L387.3,337.2 L388.0,336.0 L388.3,334.6 L389.0,333.2 L389.3,336.0 L389.9,334.8 L390.2,332.6 L390.7,331.0 L391.0,332.7 L391.6,331.7 L391.9,328.9 L392.5,327.9 L392.8,329.8 L393.5,326.2 L393.8,325.8 L394.5,322.3 L394.8,323.8 L395.5,323.6 L395.8,321.8 L396.5,322.1 L396.8,323.3 L397.3,324.4 L397.6,323.4 L398.2,325.4 L398.5,327.0 L399.1,327.6 L399.4,326.1 L399.9,327.0 L400.2,327.6 L400.9,329.0 L401.2,328.3 L401.9,329.4 L402.2,330.8 L402.9,333.2 L403.2,330.6 L403.9,333.1 L404.2,335.9 L404.8,337.0 L405.1,336.2 L405.7,337.9 L406.0,339.0 L406.5,337.3 L406.8,335.7 L407.4,334.1 L407.7,335.9 L408.4,335.7 L408.7,334.5 L409.4,334.5 L409.7,337.1 L410.4,335.0 L410.7,334.2 L411.4,332.1 L411.7,333.4 L412.3,334.2 L412.6,333.2 L413.1,333.8 L413.4,334.9 L414.0,332.2 L414.3,331.8 L414.9,328.5 L415.2,330.3 L415.6,333.0 L415.9,330.3 L416.4,331.9 L416.7,333.4 L417.2,331.1 L417.5,330.9 L418.1,327.7 L418.4,328.9 L419.0,329.7 L419.3,328.8 L419.9,330.7 L420.1,331.3 L420.8,328.8 L421.1,327.2 L421.8,325.3 L422.1,326.3 L422.8,323.5 L423.1,322.8 L423.8,320.0 L424.1,321.9 L424.7,321.0 L425.0,318.5 L425.6,318.1 L425.9,318.6 L426.4,321.4 L426.7,319.1 L427.3,321.4 L427.6,323.4 L428.3,318.6 L428.6,317.4 L429.3,313.2 L429.6,313.5 L430.3,310.7 L430.6,308.4 L431.3,304.6 L431.6,306.7 L432.2,310.7 L432.5,308.3 L433.0,312.2 L433.3,314.4 L433.9,318.4 L434.2,317.0 L434.8,321.9 L435.1,322.4 L435.8,325.1 L436.1,322.5 L436.8,325.1 L437.1,326.5 L438.0,335.1 L438.3,333.9 L439.3,343.3 L439.6,345.2 L440.2,342.3 L440.5,340.6 L441.2,336.6 L441.5,337.9 L442.1,340.8 L442.4,338.9 L443.0,342.1 L443.3,344.7 L443.9,341.7 L444.2,340.8 L444.7,337.5 L445.0,339.2 L445.7,337.2 L446.0,336.0 L446.7,333.5 L447.0,336.0 L447.7,332.9 L448.0,331.7 L448.7,330.3 L449.0,331.6 L449.6,334.1 L449.9,331.3 L450.4,333.6 L450.7,334.9 L451.3,332.9 L451.6,331.2 L452.2,327.8 L452.5,329.6 L453.2,327.6 L453.5,326.7 L454.2,324.5 L454.5,327.3 L455.4,318.9 L455.7,317.8 L456.3,316.8 L456.6,317.4 L457.2,316.3 L457.5,314.5 L457.9,312.1 L458.2,312.6 L458.7,308.8 L459.0,308.4 L459.9,302.7 L460.2,304.6 L461.1,314.7 L461.4,312.5 L462.0,309.1 L462.3,310.4 L462.9,307.7 L463.2,305.8 L464.1,308.4 L464.4,308.9 L465.4,296.8 L465.7,295.6 L466.6,291.5 L466.9,292.4 L467.6,288.9 L467.9,287.1 L468.6,284.6 L468.9,286.2 L469.5,281.4 L469.8,279.6 L470.3,275.7 L470.6,279.0 L471.6,267.8 L471.9,267.3 L472.8,270.5 L473.1,272.9 L473.7,266.7 L474.0,264.1 L474.6,257.8 L474.9,260.1 L475.3,259.9 L475.6,256.2 L476.1,254.0 L476.4,255.3 L477.0,237.0 L477.2,233.5 L477.9,225.3 L478.1,226.3 L478.9,217.4 L479.1,216.7 L479.9,226.1 L480.1,229.3 L480.8,236.2 L481.0,235.5 L481.7,220.7 L481.9,225.5 L482.6,208.4 L482.8,205.4 L483.2,185.1 L483.4,188.4 L483.6,169.2 L483.8,166.2 L484.5,174.0 L484.8,174.9 L485.4,170.9 L485.6,168.1 L486.4,179.0 L486.6,182.4 L487.2,168.2 L487.5,165.7 L487.9,153.9 L488.1,156.3 L488.4,173.1 L488.6,170.5 L488.8,214.0 L489.0,217.8 L489.5,192.1 L489.8,189.6 L490.6,176.1 L490.8,180.6 L491.6,181.4 L491.8,180.3 L492.2,169.5 L492.5,170.1 L493.2,186.4 L493.5,183.0 L494.2,177.8 L494.4,180.3 L495.1,190.0 L495.3,187.8 L495.7,198.6 L495.9,203.1 L496.6,207.7 L496.8,204.7 L497.5,209.9 L497.8,212.0 L498.5,216.9 L498.8,214.4 L499.4,209.6 L499.6,211.5 L500.2,204.8 L500.5,202.7 L501.2,197.8 L501.5,199.5 L502.2,195.9 L502.4,193.5 L503.1,200.0 L503.3,204.8 L504.1,212.2 L504.3,207.9 L505.0,205.3 L505.2,208.4 L505.9,203.2 L506.1,202.2 L506.9,210.5 L507.1,213.6 L507.8,219.9 L508.0,217.4 L508.7,233.3 L508.9,236.4 L509.7,226.1 L509.9,223.8 L510.6,214.2 L510.8,217.7 L511.5,210.5 L511.8,206.7 L512.5,203.2 L512.8,205.8 L513.4,194.2 L513.6,192.9 L514.2,183.9 L514.5,187.9 L515.2,176.7 L515.5,174.5 L516.1,166.3 L516.4,169.8 L517.1,149.6 L517.4,148.2 L517.6,123.2 L517.9,126.8 L518.3,120.7 L518.6,117.4 L519.1,112.8 L519.4,115.5 L519.9,163.8 L520.1,161.7 L520.5,124.0 L520.8,125.9 L521.6,103.6 L521.9,99.8 L522.4,94.4 L522.7,96.3 L523.2,90.3 L523.5,88.9 L524.6,83.3 L524.9,85.1 L525.2,102.2 L525.5,101.2 L526.1,123.9 L526.4,124.7 L527.1,115.9 L527.4,112.3 L528.1,109.7 L528.4,112.8 L528.5,150.8 L528.8,146.6 L529.2,153.7 L529.5,157.1 L530.1,169.0 L530.4,167.0 L531.1,183.8 L531.4,186.9 L532.1,181.6 L532.4,178.2 L533.0,174.1 L533.2,175.3 L533.9,169.4 L534.1,165.8 L534.9,154.1 L535.1,154.4 L535.8,164.5 L536.0,163.6 L536.6,150.3 L536.9,152.9 L537.6,158.7 L537.9,157.0 L538.6,169.7 L538.9,172.1 L539.5,182.9 L539.8,179.7 L540.5,169.9 L540.8,171.2 L541.4,166.0 L541.6,161.9 L542.2,172.8 L542.5,174.1 L543.2,154.3 L543.5,149.9 L544.1,135.4 L544.4,135.6 L545.1,142.4 L545.4,140.1 L545.6,148.3 L545.9,152.6 L546.4,138.3 L546.6,136.5 L547.0,150.9 L547.2,154.6 L547.9,179.0 L548.1,177.5 L548.5,185.8 L548.8,187.6 L549.1,174.9 L549.4,172.5 L550.0,171.7 L550.2,174.4 L550.6,189.9 L550.9,189.1 L551.6,184.8 L551.9,188.1 L552.6,194.7 L552.9,192.7 L553.5,196.5 L553.8,200.7 L554.5,205.3 L554.8,203.5 L555.4,199.3 L555.6,202.2 L556.2,206.3 L556.5,204.7 L557.2,212.2 L557.5,214.6 L558.1,220.9 L558.4,216.7 L559.1,215.3 L559.4,219.2 L560.0,225.4 L560.2,224.8 L561.0,221.9 L561.2,223.8 L561.9,230.9 L562.1,228.2 L562.9,226.2 L563.1,228.8 L563.8,240.3 L564.0,237.7 L564.6,244.7 L564.9,248.0 L565.6,258.9 L565.9,257.9 L566.6,248.9 L566.9,250.2 L567.5,233.0 L567.8,229.9 L568.4,211.6 L568.6,213.8 L569.4,205.3 L569.6,203.3 L569.9,185.6 L570.1,186.6 L570.5,177.3 L570.8,174.9 L571.1,166.4 L571.4,167.6 L572.1,164.2 L572.4,162.5 L572.6,151.9 L572.9,153.9 L573.5,176.5 L573.8,174.3 L574.1,165.6 L574.4,168.8 L575.0,171.4 L575.2,169.1 L575.9,179.4 L576.1,181.7 L576.8,178.1 L577.0,175.0 L577.8,184.9 L578.0,186.1 L578.6,200.0 L578.9,195.9 L579.6,206.8 L579.9,209.4 L580.6,219.7 L580.9,216.8 L581.5,225.0 L581.8,227.3 L582.4,234.0 L582.6,229.5 L583.4,238.9 L583.6,242.3 L584.2,246.2 L584.5,244.6 L585.1,234.2 L585.4,236.8 L585.9,240.4 L586.1,237.1 L586.6,240.9 L586.9,242.5 L587.5,246.4 L587.8,243.1 L588.5,246.1 L588.8,249.6 L589.6,253.5 L589.9,251.2 L590.6,250.6 L590.9,254.2 L591.6,252.3 L591.9,251.6 L592.5,252.0 L592.8,255.3 L593.4,256.8 L593.6,253.8 L594.6,258.8 L594.9,262.4 L595.9,269.1 L596.1,264.5 L597.1,255.4 L597.4,258.0 L598.4,247.4 L598.6,245.7 L599.6,247.5 L599.9,250.2 L600.8,257.2 L601.0,254.6 L601.6,264.2 L601.9,266.5 L602.6,268.0 L602.9,265.6 L603.6,263.8 L603.9,265.5 L604.4,264.3 L604.6,261.7 L604.9,273.0 L605.1,274.4" fill="none" stroke="#09543f" stroke-width="1.25" stroke-linejoin="round"/>
<g font-family="Liberation Sans, sans-serif" font-size="5.4" text-anchor="middle">
<path d="M617,263 L622,258.7 V255.5 H637.5 V268.3 H622 V265.8 Z" fill="#fff" stroke="#cfcfcf" stroke-width="0.7"/>
<text x="629.5" y="264.3" fill="#8ea5ba">475</text>
<path d="M617,273.5 L622,272 V268.3 H638.7 V282 H622 V277.6 Z" fill="#fff" stroke="#cfcfcf" stroke-width="0.7"/>
<text x="630.5" y="277.6" fill="#0b5a44">43,6</text>
</g>
</svg>
<div class="title">Sojaolie og rapsfrø</div>
<div class="unit">EUR/Metric Ton</div>
<div class="yl" style="top:360.5px">200</div>
<div class="yl" style="top:324.6px">300</div>
<div class="yl" style="top:288.7px">400</div>
<div class="yl" style="top:252.8px">500</div>
<div class="yl" style="top:216.9px">600</div>
<div class="yl" style="top:181.1px">700</div>
<div class="yl" style="top:145.2px">800</div>
<div class="yl" style="top:109.3px">900</div>
<div class="yl" style="top:73.4px">1000</div>
<div class="yl" style="top:37.5px">1100</div>
<div class="yr" style="top:360.5px">20</div>
<div class="yr" style="top:320.1px">30</div>
<div class="yr" style="top:279.8px">40</div>
<div class="yr" style="top:239.4px">50</div>
<div class="yr" style="top:199.0px">60</div>
<div class="yr" style="top:158.6px">70</div>
<div class="yr" style="top:118.2px">80</div>
<div class="yr" style="top:77.9px">90</div>
<div class="yr" style="top:37.5px">100</div>
<div class="xl" style="left:33.2px">2010</div>
<div class="xl" style="left:73.0px">2011</div>
<div class="xl" style="left:112.7px">2012</div>
<div class="xl" style="left:152.5px">2013</div>
<div class="xl" style="left:192.3px">2014</div>
<div class="xl" style="left:232.0px">2015</div>
<div class="xl" style="left:271.8px">2016</div>
<div class="xl" style="left:311.6px">2017</div>
<div class="xl" style="left:351.3px">2018</div>
<div class="xl" style="left:391.1px">2019</div>
<div class="xl" style="left:430.9px">2020</div>
<div class="xl" style="left:470.7px">2021</div>
<div class="xl" style="left:510.4px">2022</div>
<div class="xl" style="left:550.2px">2023</div>
<div class="xl" style="left:583.3px">2024</div>
<div class="src">Kilde: Agrocura, Macrobond</div>
</body></html>
